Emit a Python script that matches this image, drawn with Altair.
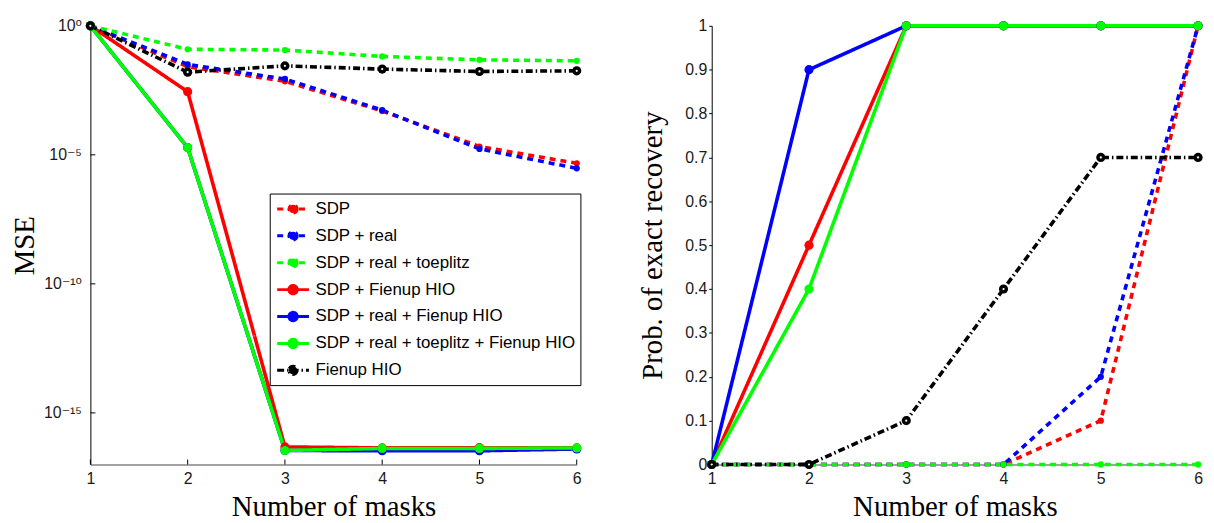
import altair as alt
import pandas as pd

# ---------------- data ----------------
masks = [1, 2, 3, 4, 5, 6]
series = [
    "SDP",
    "SDP + real",
    "SDP + real + toeplitz",
    "SDP + Fienup HIO",
    "SDP + real + Fienup HIO",
    "SDP + real + toeplitz + Fienup HIO",
    "Fienup HIO",
]
dotted_series = series[:3]
solid_series = series[3:]
colors = ["#ff0000", "#0000ff", "#00ff00", "#ff0000", "#0000ff", "#00ff00", "#000000"]
dash_patterns = [[6, 5], [6, 5], [6, 5], [1, 0], [1, 0], [1, 0], [7, 3, 1.5, 3]]

mse_sdp = [1, 2.6e-2, 7.1e-3, 5.0e-4, 2.1e-5, 4.7e-6]
mse_sdp_real = [1, 3.2e-2, 8.7e-3, 5.4e-4, 1.7e-5, 3.0e-6]
mse_sdp_real_toeplitz = [1, 0.123, 0.115, 0.065, 0.048, 0.044]
mse_sdp_hio = [1, 2.8e-3, 4.8e-17, 4.4e-17, 4.5e-17, 4.4e-17]
mse_sdp_real_hio = [1, 1.9e-5, 3.5e-17, 3.4e-17, 3.4e-17, 4.0e-17]
mse_sdp_real_toeplitz_hio = [1, 1.9e-5, 3.5e-17, 4.2e-17, 4.2e-17, 4.4e-17]
mse_hio = [1, 1.6e-2, 2.8e-2, 2.1e-2, 1.7e-2, 1.8e-2]

prob_sdp = [0, 0, 0, 0, 0.1, 1]
prob_sdp_real = [0, 0, 0, 0, 0.2, 1]
prob_sdp_real_toeplitz = [0, 0, 0, 0, 0, 0]
prob_sdp_hio = [0, 0.5, 1, 1, 1, 1]
prob_sdp_real_hio = [0, 0.9, 1, 1, 1, 1]
prob_sdp_real_toeplitz_hio = [0, 0.4, 1, 1, 1, 1]
prob_hio = [0, 0, 0.1, 0.4, 0.7, 0.7]

mse_ticks = [1e-15, 1e-10, 1e-5, 1]
mse_tick_labels = ["10⁻¹⁵", "10⁻¹⁰", "10⁻⁵", "10⁰"]
prob_ticks = [0, 0.1, 0.2, 0.3, 0.4, 0.5, 0.6, 0.7, 0.8, 0.9, 1]

mse_lists = [mse_sdp, mse_sdp_real, mse_sdp_real_toeplitz, mse_sdp_hio,
             mse_sdp_real_hio, mse_sdp_real_toeplitz_hio, mse_hio]
prob_lists = [prob_sdp, prob_sdp_real, prob_sdp_real_toeplitz, prob_sdp_hio,
              prob_sdp_real_hio, prob_sdp_real_toeplitz_hio, prob_hio]

rows = []
for s, ml, pl in zip(series, mse_lists, prob_lists):
    for m, a, b in zip(masks, ml, pl):
        rows.append({"series": s, "mask": m, "mse": a, "prob": b})
df = pd.DataFrame(rows)

SANS = "Liberation Sans, Arial, Helvetica, DejaVu Sans, sans-serif"
SERIF = "Liberation Serif, Times New Roman, serif"

W, H = 490, 442

legend_path = "M-1.6,0H1.6M0.42,0A0.42,0.42,0,1,1,-0.42,0A0.42,0.42,0,1,1,0.42,0"
leg = alt.Legend(
    title=None, orient="none", legendX=180.7, legendY=169,
    fillColor="white", strokeColor="black", padding=4, rowPadding=5.1,
    symbolType=legend_path, symbolSize=400, symbolStrokeWidth=3,
    symbolOffset=8, labelOffset=11, labelFont=SANS, labelFontSize=17,
    labelColor="black", labelLimit=400,
)

def stroke_enc(legend):
    return alt.Stroke("series:N", scale=alt.Scale(domain=series, range=colors), legend=legend)

def dash_enc(legend):
    return alt.StrokeDash("series:N", scale=alt.Scale(domain=series, range=dash_patterns), legend=legend)

def fill_enc(legend):
    return alt.Fill("series:N", scale=alt.Scale(domain=series, range=colors), legend=legend)

x_axis = alt.Axis(values=masks, format="d", tickSize=0, labelPadding=6, domainColor="#444444",
                  title="Number of masks", titleBaseline="alphabetic", titleY=51)
x_enc = alt.X("mask:Q", scale=alt.Scale(domain=[1, 6], nice=False), axis=x_axis)

label_expr = " : ".join(f"datum.value == {v!r} ? '{l}'" for v, l in zip(mse_ticks, mse_tick_labels)) + " : ''"
y_left = alt.Y("mse:Q", scale=alt.Scale(type="log", domain=[1e-17, 1], nice=False),
               axis=alt.Axis(values=mse_ticks, labelExpr=label_expr, tickSize=0, labelPadding=9,
                             domainColor="black", title="MSE", titleBaseline="alphabetic", titleX=-57))

y_right = alt.Y("prob:Q", scale=alt.Scale(domain=[0, 1], nice=False),
                axis=alt.Axis(values=prob_ticks, format=".1~f", tickSize=3, tickColor="black",
                              labelPadding=2, domainColor="black",
                              title="Prob. of exact recovery", titleBaseline="alphabetic", titleX=-50.6))

base = alt.Chart(df)


def panel(y_enc, legend, extra=()):
    lines = base.mark_line(strokeWidth=3.6).encode(
        x=x_enc, y=y_enc, stroke=stroke_enc(legend), strokeDash=dash_enc(legend))
    p_dot = base.transform_filter(alt.FieldOneOfPredicate(field="series", oneOf=dotted_series)).mark_point(
        filled=True, opacity=1, size=40).encode(x=x_enc, y=y_enc, fill=fill_enc(legend))
    p_solid = base.transform_filter(alt.FieldOneOfPredicate(field="series", oneOf=solid_series)).mark_point(
        filled=True, opacity=1, size=85).encode(x=x_enc, y=y_enc, fill=fill_enc(legend))
    p_white = base.transform_filter(alt.datum.series == "Fienup HIO").mark_point(
        filled=True, opacity=1, size=5, color="white").encode(x=x_enc, y=y_enc)
    return alt.layer(*extra, lines, p_dot, p_solid, p_white).properties(width=W, height=H)


xt = alt.Chart(pd.DataFrame({"mask": masks})).mark_rule(color="black", strokeWidth=1).encode(
    x=x_enc, y=alt.value(H), y2=alt.value(H - 5))
yt = alt.Chart(pd.DataFrame({"mse": mse_ticks})).mark_rule(color="black", strokeWidth=1).encode(
    y=y_left, x=alt.value(0), x2=alt.value(5))

left = panel(y_left, leg, extra=(xt, yt))
right = panel(y_right, None)

chart = alt.hconcat(left, right, spacing=136, bounds="flush").resolve_scale(
    stroke="independent", strokeDash="independent", fill="independent"
).resolve_legend(
    stroke="independent", strokeDash="independent", fill="independent"
).properties(
    padding={"left": 3, "top": 8, "right": 0, "bottom": 0}
).configure_view(stroke=None).configure_axis(
    grid=False, labelFont=SANS, labelFontSize=16, labelColor="#1a1a1a", labelFlush=False,
    titleFont=SERIF, titleFontSize=29, titleFontWeight="normal", titleColor="black", domainWidth=1,
)

chart.save("out.html", embed_options={"renderer": "svg", "actions": False})
